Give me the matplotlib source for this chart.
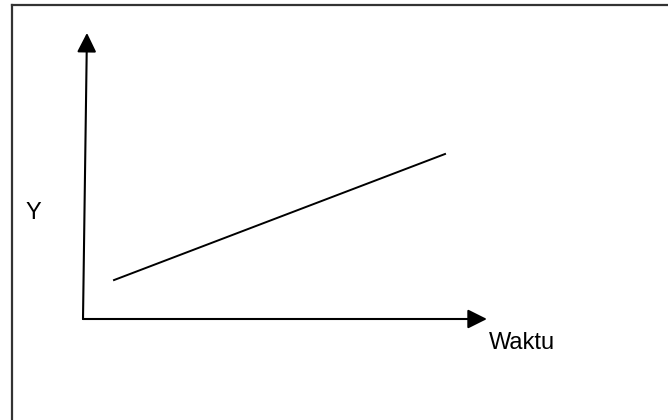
import matplotlib.pyplot as plt

plt.rcParams['font.family'] = ['Liberation Sans', 'DejaVu Sans']

# data for the sketch (units in the diagram's own axes)
waktu = [0.94, 10.97]
y_vals = [1.18, 5.0]
x_axis_end = 12.24
y_axis_end = 8.67
y_axis_top_x = 0.12
x_label = 'Waktu'
y_label = 'Y'

fig = plt.figure(figsize=(6.68, 4.2), dpi=100)
ax = fig.add_axes([0, 0, 1, 1])
ax.set_xlim(-83 / 33, (668 - 83) / 33)
ax.set_ylim(-(420 - 319) / 33, 319 / 33)
ax.axis('off')

# outer frame (only top and left visible in the crop)
fig.add_artist(plt.Line2D([12 / 668, 12 / 668], [0, 1 - 5 / 420], color='#333333', lw=1.6))
fig.add_artist(plt.Line2D([12 / 668, 1], [1 - 5 / 420, 1 - 5 / 420], color='#333333', lw=1.6))

arrow = dict(arrowstyle='-|>,head_length=0.9,head_width=0.45', mutation_scale=13,
             color='black', lw=1.5, shrinkA=0, shrinkB=0)
ax.annotate('', xy=(y_axis_top_x, y_axis_end), xytext=(0, 0), arrowprops=arrow)
ax.annotate('', xy=(x_axis_end, 0), xytext=(0, 0), arrowprops=arrow)

ax.plot(waktu, y_vals, color='black', lw=1.4)

ax.text(12.3, -0.4, x_label, fontsize=17, ha='left', va='top')
ax.text(-1.75, 3.2, y_label, fontsize=17, ha='left', va='center')

fig.savefig('out.png', dpi=100)
